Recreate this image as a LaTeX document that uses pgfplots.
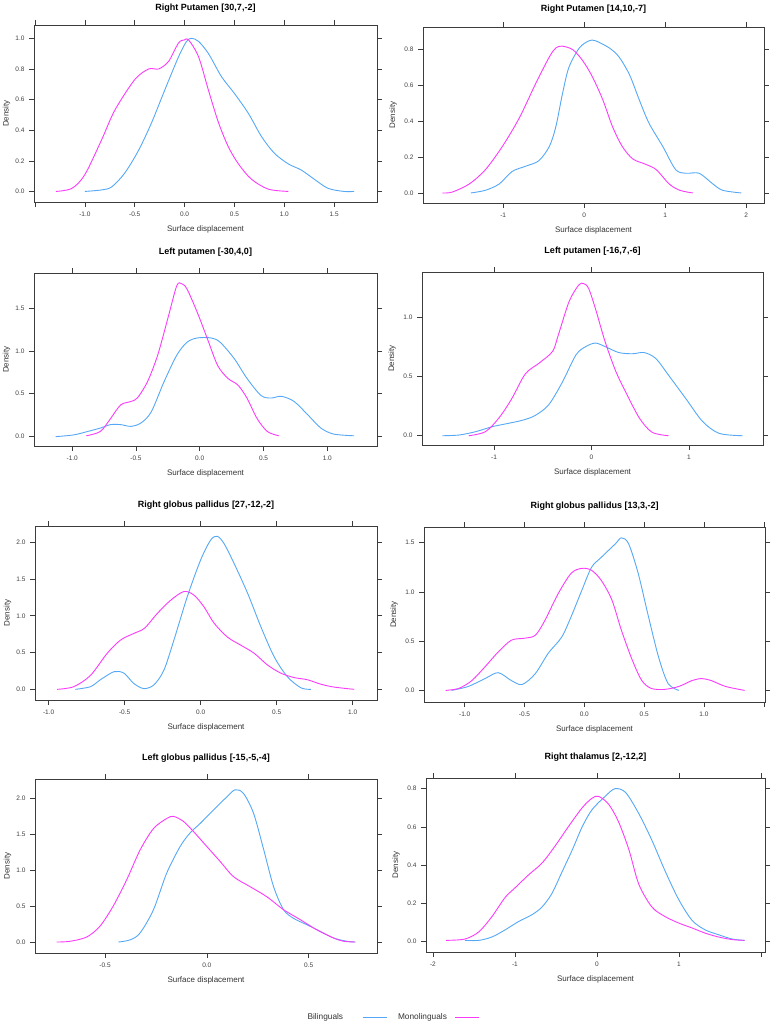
\documentclass[border=0pt]{standalone}
\usepackage{pgfplots}
\pgfplotsset{compat=1.18}
\usepackage{fontspec}
\setmainfont{Liberation Sans}

\definecolor{bil}{RGB}{85,168,245}
\definecolor{mono}{RGB}{250,60,250}
\definecolor{axc}{RGB}{60,60,60}

\pgfplotsset{
  lat/.style={
    scale only axis,
    axis line style={axc, line width=0.9pt},
    tick style={axc, line width=0.6pt},
    tick align=outside,
    major tick length=5pt,
    tick label style={font=\fontsize{6.5}{7}\selectfont, text=black!75},
    xticklabel style={anchor=center, yshift=-7pt},
    yticklabel style={anchor=center, xshift=-9pt},
    title style={font=\fontsize{9}{10}\selectfont\bfseries, anchor=center, at={(0.5,1)}, yshift=15pt},
    xlabel={Surface displacement},
    ylabel={Density},
    label style={font=\fontsize{8}{9}\selectfont, text=black!80},
    xlabel style={at={(axis description cs:0.5,0)}, anchor=center, yshift=-27pt},
    ylabel style={at={(axis description cs:-0.08,0.5)}, anchor=center},
  },
  bl/.style={bil, line width=0.9pt, smooth, tension=0.5},
  mn/.style={mono, line width=0.9pt, smooth, tension=0.5},
}

\begin{document}
\begin{tikzpicture}
\path[use as bounding box] (0pt,0pt) rectangle (773pt,-1025pt);

% row 1 left
\begin{axis}[lat, at={(34pt,-25pt)}, anchor=north west, width=343pt, height=177pt,
  title={Right Putamen [30,7,-2]}, title style={yshift=-4pt},
  xmin=-1.51, xmax=1.93, ymin=-0.069, ymax=1.087,
  xtick={-1.5,-1,-0.5,0,0.5,1,1.5}, xticklabels={,-1.0,-0.5,0.0,0.5,1.0,1.5},
  ytick={0,0.2,0.4,0.6,0.8,1.0}, yticklabels={0.0,0.2,0.4,0.6,0.8,1.0}]
\addplot[bl] coordinates {(-1.0,0)(-0.83,0.01)(-0.73,0.03)(-0.60,0.12)(-0.46,0.27)(-0.33,0.45)(-0.20,0.66)(-0.06,0.88)(0.02,0.98)(0.07,1.0)(0.14,0.98)(0.24,0.90)(0.37,0.75)(0.50,0.64)(0.64,0.51)(0.77,0.36)(0.90,0.25)(1.04,0.18)(1.17,0.14)(1.30,0.08)(1.44,0.02)(1.60,0)(1.70,0)};
\addplot[mn] coordinates {(-1.29,0)(-1.13,0.02)(-1.0,0.11)(-0.83,0.34)(-0.70,0.53)(-0.50,0.73)(-0.36,0.80)(-0.26,0.80)(-0.16,0.85)(-0.06,0.97)(0,0.99)(0.04,0.99)(0.14,0.88)(0.24,0.66)(0.34,0.45)(0.44,0.29)(0.54,0.18)(0.67,0.08)(0.84,0.015)(1.04,0)};
\end{axis}

% row 1 right
\begin{axis}[lat, at={(423pt,-27pt)}, anchor=north west, width=341pt, height=176pt,
  title={Right Putamen [14,10,-7]}, title style={yshift=-3pt},
  ylabel style={at={(axis description cs:-0.088,0.5)}},
  xmin=-1.99, xmax=2.22, ymin=-0.056, ymax=0.927,
  xtick={-1,0,1,2}, xticklabels={-1,0,1,2},
  ytick={0,0.2,0.4,0.6,0.8}, yticklabels={0.0,0.2,0.4,0.6,0.8}]
\addplot[bl] coordinates {(-1.40,0)(-1.22,0.015)(-1.05,0.05)(-0.89,0.12)(-0.72,0.15)(-0.56,0.18)(-0.43,0.26)(-0.35,0.37)(-0.27,0.55)(-0.19,0.70)(-0.06,0.81)(0.06,0.85)(0.14,0.85)(0.31,0.81)(0.43,0.76)(0.56,0.66)(0.68,0.52)(0.80,0.39)(0.97,0.26)(1.13,0.13)(1.26,0.11)(1.42,0.11)(1.59,0.05)(1.71,0.015)(1.94,0)};
\addplot[mn] coordinates {(-1.75,0)(-1.63,0.005)(-1.42,0.05)(-1.22,0.13)(-1.01,0.26)(-0.80,0.42)(-0.60,0.61)(-0.43,0.76)(-0.35,0.81)(-0.27,0.82)(-0.14,0.80)(-0.02,0.74)(0.10,0.65)(0.23,0.52)(0.35,0.37)(0.47,0.26)(0.60,0.19)(0.76,0.16)(0.89,0.13)(1.05,0.05)(1.18,0.015)(1.34,0)};
\end{axis}

% row 2 left
\begin{axis}[lat, at={(34pt,-273pt)}, anchor=north west, width=343pt, height=173pt,
  title={Left putamen [-30,4,0]},
  xmin=-1.30, xmax=1.39, ymin=-0.109, ymax=1.907,
  xtick={-1,-0.5,0,0.5,1}, xticklabels={-1.0,-0.5,0.0,0.5,1.0},
  ytick={0,0.5,1,1.5}, yticklabels={0.0,0.5,1.0,1.5}]
\addplot[bl] coordinates {(-1.13,0)(-0.99,0.02)(-0.88,0.06)(-0.78,0.10)(-0.70,0.14)(-0.62,0.14)(-0.54,0.12)(-0.46,0.16)(-0.38,0.29)(-0.28,0.64)(-0.18,0.95)(-0.10,1.10)(-0.02,1.15)(0.09,1.15)(0.16,1.10)(0.27,0.91)(0.37,0.68)(0.48,0.48)(0.56,0.45)(0.64,0.47)(0.74,0.41)(0.85,0.25)(0.95,0.10)(1.05,0.03)(1.21,0.01)};
\addplot[mn] coordinates {(-0.89,0.01)(-0.78,0.06)(-0.70,0.21)(-0.62,0.37)(-0.54,0.41)(-0.49,0.45)(-0.41,0.64)(-0.33,0.95)(-0.25,1.38)(-0.18,1.76)(-0.14,1.78)(-0.10,1.72)(-0.02,1.45)(0.06,1.14)(0.14,0.83)(0.22,0.68)(0.30,0.60)(0.37,0.45)(0.45,0.21)(0.53,0.06)(0.62,0.01)};
\end{axis}

% row 2 right
\begin{axis}[lat, at={(422pt,-272pt)}, anchor=north west, width=341pt, height=173pt,
  title={Left putamen [-16,7,-6]},
  ylabel style={at={(axis description cs:-0.088,0.5)}},
  xmin=-1.74, xmax=1.76, ymin=-0.078, ymax=1.378,
  xtick={-1,0,1}, xticklabels={-1,0,1},
  ytick={0,0.5,1}, yticklabels={0.0,0.5,1.0}]
\addplot[bl] coordinates {(-1.53,0)(-1.36,0.006)(-1.19,0.034)(-1.02,0.076)(-0.88,0.10)(-0.71,0.13)(-0.58,0.17)(-0.44,0.26)(-0.30,0.45)(-0.16,0.68)(-0.06,0.75)(0.04,0.78)(0.14,0.75)(0.28,0.70)(0.42,0.69)(0.54,0.70)(0.66,0.65)(0.79,0.51)(0.97,0.31)(1.14,0.12)(1.31,0.02)(1.55,0)};
\addplot[mn] coordinates {(-1.26,0)(-1.09,0.034)(-0.95,0.15)(-0.82,0.31)(-0.68,0.52)(-0.54,0.61)(-0.40,0.71)(-0.34,0.85)(-0.23,1.13)(-0.13,1.27)(-0.08,1.28)(-0.03,1.24)(0.04,1.07)(0.14,0.79)(0.25,0.54)(0.35,0.37)(0.49,0.15)(0.62,0.03)(0.79,0)};
\end{axis}

% row 3 left
\begin{axis}[lat, at={(35pt,-526pt)}, anchor=north west, width=342pt, height=174pt,
  title={Right globus pallidus [27,-12,-2]},
  xmin=-1.09, xmax=1.16, ymin=-0.145, ymax=2.22,
  xtick={-1,-0.5,0,0.5,1}, xticklabels={-1.0,-0.5,0.0,0.5,1.0},
  ytick={0,0.5,1,1.5,2}, yticklabels={0.0,0.5,1.0,1.5,2.0}]
\addplot[bl] coordinates {(-0.824,0)(-0.725,0.036)(-0.66,0.13)(-0.57,0.24)(-0.505,0.22)(-0.44,0.08)(-0.374,0.01)(-0.308,0.06)(-0.242,0.26)(-0.176,0.67)(-0.088,1.26)(0,1.76)(0.066,2.03)(0.11,2.08)(0.154,1.98)(0.22,1.71)(0.31,1.30)(0.396,0.85)(0.484,0.44)(0.571,0.17)(0.66,0.02)(0.725,0)};
\addplot[mn] coordinates {(-0.945,0)(-0.835,0.036)(-0.725,0.19)(-0.615,0.49)(-0.527,0.67)(-0.44,0.76)(-0.37,0.83)(-0.286,1.03)(-0.198,1.21)(-0.11,1.33)(-0.044,1.28)(0.022,1.12)(0.088,0.90)(0.176,0.71)(0.264,0.60)(0.352,0.49)(0.44,0.33)(0.527,0.22)(0.615,0.16)(0.703,0.13)(0.79,0.07)(0.88,0.03)(1.01,0)};
\end{axis}

% row 3 right
\begin{axis}[lat, at={(424pt,-527pt)}, anchor=north west, width=341pt, height=175pt,
  title={Right globus pallidus [13,3,-2]},
  ylabel style={at={(axis description cs:-0.088,0.5)}},
  xmin=-1.34, xmax=1.51, ymin=-0.118, ymax=1.66,
  xtick={-1,-0.5,0,0.5,1,1.5}, xticklabels={-1.0,-0.5,0.0,0.5,1.0,},
  ytick={0,0.5,1,1.5}, yticklabels={0.0,0.5,1.0,1.5}]
\addplot[bl] coordinates {(-1.11,0)(-0.97,0.04)(-0.83,0.12)(-0.72,0.18)(-0.61,0.10)(-0.52,0.06)(-0.41,0.17)(-0.30,0.38)(-0.19,0.54)(-0.11,0.75)(-0.02,1.02)(0.06,1.25)(0.14,1.35)(0.26,1.49)(0.31,1.55)(0.37,1.49)(0.45,1.19)(0.53,0.78)(0.62,0.34)(0.70,0.07)(0.79,0)};
\addplot[mn] coordinates {(-1.16,0)(-1.05,0.02)(-0.94,0.10)(-0.83,0.24)(-0.72,0.39)(-0.61,0.51)(-0.50,0.53)(-0.41,0.56)(-0.33,0.71)(-0.22,0.98)(-0.11,1.19)(-0.02,1.24)(0.06,1.22)(0.14,1.12)(0.23,0.92)(0.31,0.61)(0.40,0.31)(0.48,0.10)(0.56,0.02)(0.67,0.01)(0.79,0.04)(0.90,0.10)(0.98,0.12)(1.06,0.10)(1.18,0.04)(1.34,0)};
\end{axis}

% row 4 left (with legend)
\begin{axis}[lat, at={(35pt,-779pt)}, anchor=north west, width=342pt, height=174pt,
  title={Left globus pallidus [-15,-5,-4]},
  xmin=-0.844, xmax=0.836, ymin=-0.153, ymax=2.27,
  xtick={-0.5,0,0.5}, xticklabels={-0.5,0.0,0.5},
  ytick={0,0.5,1,1.5,2}, yticklabels={0.0,0.5,1.0,1.5,2.0},
  legend plot pos=right,
  legend image code/.code={\draw[#1] (0pt,0pt) -- (24pt,0pt);},
  legend style={at={(1.046,-0.368)}, anchor=center, draw=none, fill=none,
    font=\fontsize{8.3}{9}\selectfont, text=black!80, legend columns=2,
    /tikz/column 1/.append style={column sep=17pt},
    /tikz/column 2/.append style={column sep=9pt},
    /tikz/column 3/.append style={column sep=6pt}}]
\addplot[bl] coordinates {(-0.434,0)(-0.377,0.03)(-0.328,0.125)(-0.262,0.45)(-0.197,0.96)(-0.131,1.33)(-0.082,1.52)(-0.033,1.65)(0.033,1.84)(0.098,2.02)(0.139,2.12)(0.18,2.07)(0.23,1.79)(0.28,1.28)(0.328,0.77)(0.377,0.45)(0.426,0.33)(0.492,0.24)(0.557,0.15)(0.623,0.056)(0.689,0.01)(0.73,0)};
\addlegendentry{Bilinguals}
\addplot[mn] coordinates {(-0.738,0)(-0.672,0.01)(-0.59,0.07)(-0.525,0.22)(-0.46,0.50)(-0.393,0.87)(-0.328,1.28)(-0.262,1.58)(-0.197,1.72)(-0.164,1.75)(-0.115,1.68)(-0.066,1.54)(0,1.33)(0.066,1.12)(0.131,0.91)(0.213,0.77)(0.295,0.63)(0.377,0.45)(0.46,0.31)(0.54,0.17)(0.623,0.056)(0.672,0.01)(0.73,0)};
\addlegendentry{Monolinguals}
\end{axis}

% row 4 right
\begin{axis}[lat, at={(426pt,-778pt)}, anchor=north west, width=339pt, height=174pt,
  title={Right thalamus [2,-12,2]},
  ylabel style={at={(axis description cs:-0.088,0.5)}},
  xmin=-2.085, xmax=2.05, ymin=-0.056, ymax=0.856,
  xtick={-2,-1,0,1,2}, xticklabels={-2,-1,0,1,},
  ytick={0,0.2,0.4,0.6,0.8}, yticklabels={0.0,0.2,0.4,0.6,0.8}]
\addplot[bl] coordinates {(-1.61,0.005)(-1.44,0.005)(-1.28,0.023)(-1.12,0.06)(-0.955,0.104)(-0.79,0.14)(-0.67,0.18)(-0.55,0.25)(-0.43,0.36)(-0.30,0.48)(-0.18,0.60)(-0.06,0.69)(0.10,0.76)(0.22,0.80)(0.35,0.78)(0.51,0.67)(0.67,0.53)(0.83,0.37)(0.996,0.22)(1.16,0.11)(1.32,0.06)(1.48,0.035)(1.65,0.012)(1.80,0.005)};
\addplot[mn] coordinates {(-1.84,0.005)(-1.61,0.012)(-1.44,0.05)(-1.28,0.13)(-1.12,0.23)(-1.0,0.28)(-0.83,0.35)(-0.67,0.41)(-0.51,0.50)(-0.35,0.60)(-0.18,0.70)(-0.06,0.75)(0.02,0.76)(0.14,0.72)(0.26,0.63)(0.39,0.48)(0.51,0.30)(0.67,0.18)(0.83,0.13)(0.996,0.096)(1.16,0.07)(1.32,0.043)(1.48,0.023)(1.65,0.009)(1.80,0.005)};
\end{axis}
\end{tikzpicture}
\end{document}
